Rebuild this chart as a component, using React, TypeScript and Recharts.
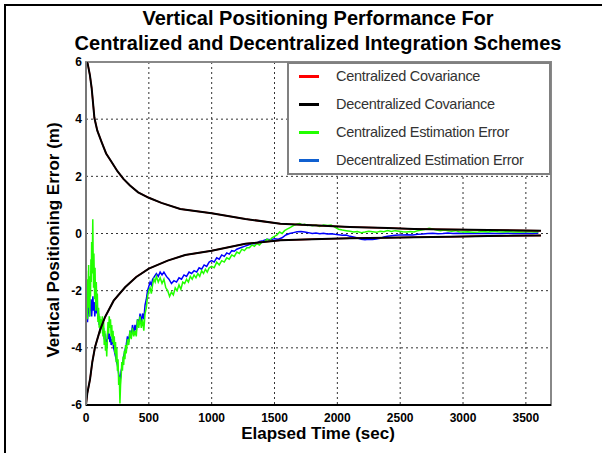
import { LineChart, Line, XAxis, YAxis, CartesianGrid, ReferenceArea } from 'recharts';

// elapsed time (sec) and vertical error (m)
const xTicks = [0, 500, 1000, 1500, 2000, 2500, 3000, 3500];
const yTicks = [-6, -4, -2, 0, 2, 4, 6];

const covUpperT = [0, 13, 31, 45, 67, 90, 125, 160, 205, 250, 298, 350, 415, 500, 600, 750, 1000, 1268, 1547, 1800, 2100, 2400, 2610, 2900, 3200, 3620];
const covUpperV = [6.0, 5.95, 5.54, 5.09, 4.04, 3.6, 3.19, 2.8, 2.49, 2.18, 1.91, 1.68, 1.44, 1.25, 1.07, 0.86, 0.71, 0.51, 0.34, 0.29, 0.23, 0.19, 0.16, 0.14, 0.12, 0.1];
const covLowerT = [0, 10, 32, 50, 72, 110, 151, 220, 311, 400, 500, 650, 789, 1000, 1268, 1547, 1800, 2100, 2400, 2610, 2900, 3200, 3620];
const covLowerV = [-6.0, -5.6, -5.1, -4.5, -3.97, -3.4, -2.93, -2.35, -1.88, -1.52, -1.23, -0.95, -0.75, -0.6, -0.36, -0.24, -0.2, -0.17, -0.15, -0.13, -0.11, -0.09, -0.07];

const centralErrT = [0, 3, 6, 9, 12, 15, 18, 21, 24, 27, 30, 33, 36, 39, 42, 45, 48, 51, 54, 57, 60, 63, 66, 69, 72, 75, 78, 82, 86, 90, 95, 100, 105, 110, 115, 120, 125, 130, 135, 140, 145, 150, 155, 160, 165, 170, 175, 180, 185, 190, 195, 200, 205, 210, 215, 220, 225, 230, 235, 240, 245, 250, 255, 260, 265, 270, 275, 280, 285, 290, 295, 300, 305, 310, 315, 320, 330, 340, 350, 360, 370, 380, 390, 400, 410, 420, 430, 440, 450, 460, 470, 480, 490, 500, 510, 520, 530, 540, 550, 560, 575, 590, 605, 620, 635, 650, 665, 680, 695, 710, 725, 740, 755, 770, 785, 800, 815, 830, 845, 860, 875, 890, 905, 920, 935, 950, 965, 980, 1000, 1020, 1040, 1060, 1080, 1100, 1120, 1140, 1160, 1180, 1200, 1220, 1240, 1260, 1280, 1300, 1320, 1340, 1360, 1380, 1400, 1420, 1440, 1460, 1480, 1500, 1520, 1540, 1560, 1580, 1600, 1620, 1640, 1660, 1680, 1700, 1720, 1740, 1760, 1780, 1800, 1830, 1860, 1890, 1920, 1950, 1980, 2010, 2040, 2070, 2100, 2130, 2160, 2190, 2220, 2250, 2280, 2310, 2340, 2370, 2400, 2430, 2460, 2490, 2520, 2550, 2580, 2610, 2640, 2670, 2700, 2730, 2760, 2790, 2820, 2850, 2880, 2910, 2940, 2970, 3000, 3040, 3080, 3120, 3160, 3200, 3240, 3280, 3320, 3360, 3400, 3440, 3480, 3520, 3560, 3600];
const centralErrV = [-5.8, -1.3, -2.8, -1.6, -3.0, -1.9, -2.6, -1.1, -2.4, -1.5, -2.9, -1.8, -2.2, -0.9, -1.7, -0.3, -1.4, -0.6, 0.5, -0.8, -1.9, -0.7, -1.5, -2.3, -1.2, -2.0, -2.7, -1.7, -2.5, -2.1, -3.1, -2.6, -3.3, -2.9, -3.5, -3.0, -3.3, -2.9, -3.6, -3.1, -3.9, -3.4, -4.1, -3.8, -4.3, -3.6, -3.1, -3.5, -2.9, -3.3, -3.0, -3.6, -3.2, -3.8, -3.4, -3.9, -3.6, -4.2, -3.8, -4.5, -4.0, -4.8, -4.4, -5.3, -5.0, -5.95, -5.3, -5.0, -4.5, -4.8, -4.3, -4.6, -4.1, -4.4, -3.9, -4.2, -3.7, -3.9, -3.4, -3.7, -3.3, -3.6, -3.4, -3.6, -3.0, -3.3, -2.9, -3.3, -3.0, -3.4, -2.8, -2.6, -2.2, -2.0, -1.9, -2.1, -1.8, -1.6, -1.7, -1.5, -1.7, -1.55, -1.75, -1.6, -1.9, -2.0, -2.2, -2.05, -2.15, -1.9, -2.0, -1.8, -1.95, -1.7, -1.75, -1.6, -1.7, -1.5, -1.6, -1.45, -1.55, -1.4, -1.5, -1.3, -1.4, -1.25, -1.35, -1.2, -1.15, -1.2, -1.0, -1.1, -0.95, -1.0, -0.85, -0.9, -0.75, -0.8, -0.65, -0.7, -0.55, -0.6, -0.5, -0.5, -0.4, -0.45, -0.35, -0.4, -0.3, -0.3, -0.2, -0.25, -0.15, -0.1, -0.05, 0.05, 0.0, 0.1, 0.15, 0.2, 0.25, 0.3, 0.33, 0.35, 0.3, 0.32, 0.28, 0.3, 0.27, 0.3, 0.25, 0.3, 0.28, 0.3, 0.22, 0.15, 0.12, 0.1, 0.08, 0.05, 0.07, 0.03, 0.05, 0.08, 0.06, 0.04, 0.08, 0.06, 0.1, 0.07, 0.1, 0.08, 0.06, 0.05, 0.07, 0.05, 0.1, 0.12, 0.15, 0.18, 0.16, 0.12, 0.1, 0.12, 0.1, 0.08, 0.1, 0.06, 0.05, 0.06, 0.04, 0.05, 0.07, 0.05, 0.08, 0.06, 0.05, 0.07, 0.05, 0.06, 0.05, 0.07, 0.05, 0.06];

const decentralErrT = [0, 4, 8, 12, 16, 20, 24, 28, 32, 36, 40, 45, 50, 55, 60, 65, 70, 75, 80, 85, 90, 95, 100, 105, 110, 115, 120, 125, 130, 135, 140, 145, 150, 155, 160, 165, 170, 175, 180, 185, 190, 195, 200, 210, 220, 230, 240, 250, 260, 270, 280, 290, 300, 310, 320, 330, 340, 350, 360, 370, 380, 390, 400, 410, 420, 430, 440, 450, 460, 470, 480, 490, 500, 510, 520, 530, 545, 560, 575, 590, 605, 620, 640, 660, 680, 700, 720, 740, 760, 780, 800, 820, 840, 860, 880, 900, 920, 940, 960, 980, 1000, 1020, 1040, 1060, 1080, 1100, 1120, 1140, 1160, 1180, 1200, 1230, 1260, 1290, 1320, 1350, 1380, 1410, 1440, 1470, 1500, 1530, 1560, 1590, 1620, 1650, 1680, 1710, 1740, 1770, 1800, 1830, 1860, 1890, 1920, 1950, 1980, 2010, 2040, 2070, 2100, 2130, 2160, 2190, 2220, 2250, 2280, 2310, 2340, 2370, 2400, 2430, 2460, 2490, 2520, 2560, 2600, 2640, 2680, 2720, 2760, 2800, 2840, 2880, 2920, 2960, 3000, 3050, 3100, 3150, 3200, 3250, 3300, 3350, 3400, 3450, 3500, 3550, 3600];
const decentralErrV = [-2.0, -2.9, -2.4, -3.1, -2.6, -2.8, -2.2, -2.9, -2.5, -2.7, -2.3, -2.9, -2.5, -2.2, -2.7, -2.4, -2.9, -2.6, -2.3, -2.8, -2.6, -3.0, -2.8, -3.2, -3.0, -3.4, -3.1, -3.3, -3.1, -3.5, -3.3, -3.7, -3.5, -3.9, -3.7, -4.0, -3.6, -3.4, -3.7, -3.5, -3.8, -3.6, -3.9, -3.7, -4.0, -4.2, -4.4, -4.6, -4.9, -5.2, -4.8, -4.6, -4.3, -4.1, -3.9, -3.6, -3.8, -3.4, -3.6, -3.2, -3.5, -3.2, -3.4, -3.0, -3.2, -2.8, -3.1, -2.8, -3.0, -2.5, -2.3, -2.0, -1.85, -1.7, -1.8, -1.6, -1.5, -1.4, -1.5, -1.35, -1.45, -1.35, -1.5, -1.6, -1.75, -1.65, -1.7, -1.55, -1.6, -1.45, -1.5, -1.35, -1.4, -1.3, -1.35, -1.2, -1.25, -1.1, -1.15, -1.0, -0.95, -1.0, -0.85, -0.9, -0.75, -0.8, -0.68, -0.72, -0.6, -0.62, -0.55, -0.5, -0.45, -0.4, -0.35, -0.36, -0.28, -0.25, -0.2, -0.22, -0.18, -0.2, -0.15, -0.05, 0.0, 0.03, 0.06, 0.07, 0.05, 0.03, 0.0, 0.02, -0.01, 0.01, -0.02, -0.01, -0.03, -0.04, -0.06, -0.05, -0.1, -0.12, -0.16, -0.2, -0.22, -0.2, -0.21, -0.19, -0.17, -0.12, -0.1, -0.08, -0.06, -0.05, -0.05, -0.04, -0.05, -0.03, -0.02, 0.0, 0.01, -0.01, 0.0, 0.02, 0.0, 0.01, 0.0, 0.01, 0.0, 0.0, 0.01, 0.0, 0.0, 0.01, 0.0, 0.0, 0.01, 0.0, 0.02];

const legendItems = [
  { name: 'Centralized Covariance', color: '#ff0000' },
  { name: 'Decentralized Covariance', color: '#000000' },
  { name: 'Centralized Estimation Error', color: '#22ff00' },
  { name: 'Decentralized Estimation Error', color: '#1060d0' },
];

const toPoints = (ts: number[], vs: number[]) => ts.map((t, i) => ({ t, v: vs[i] }));

const font = 'Arial, "Liberation Sans", sans-serif';

export default function App() {
  const upperCov = toPoints(covUpperT, covUpperV);
  const lowerCov = toPoints(covLowerT, covLowerV);
  const cenErr = toPoints(centralErrT, centralErrV);
  const decErr = toPoints(decentralErrT, decentralErrV);

  return (
    <div style={{ position: 'absolute', left: 0, top: 0, width: 602, height: 453, background: '#fff', overflow: 'hidden', fontFamily: font }}>
      {/* outer figure frame */}
      <div style={{ position: 'absolute', left: 4, top: 4, width: 620, height: 470, border: '2px solid #000' }} />

      <div style={{ position: 'absolute', left: 18, width: 600, top: 6, textAlign: 'center', fontWeight: 'bold', fontSize: 20, lineHeight: '25px', color: '#000' }}>
        Vertical Positioning Performance For
        <br />
        Centralized and Decentralized Integration Schemes
      </div>

      <LineChart width={602} height={453} margin={{ top: 62, right: 51, bottom: 0, left: 0 }} style={{ position: 'absolute', left: 0, top: 0 }}>
        <CartesianGrid stroke="#333" strokeDasharray="2 3" strokeWidth={1} />
        <XAxis
          type="number"
          dataKey="t"
          domain={[0, 3700]}
          ticks={xTicks}
          height={48}
          tickLine={false}
          axisLine={{ stroke: '#000', strokeWidth: 2 }}
          tick={{ fontSize: 12, fontWeight: 'bold', fill: '#000', fontFamily: font }}
          allowDataOverflow
        />
        <YAxis
          type="number"
          dataKey="v"
          domain={[-6, 6]}
          ticks={yTicks}
          width={86}
          tickLine={false}
          tickSize={2}
          axisLine={{ stroke: '#777', strokeWidth: 2 }}
          tick={{ fontSize: 12, fontWeight: 'bold', fill: '#000', fontFamily: font }}
          allowDataOverflow
        />
        <ReferenceArea x1={0} x2={3700} y1={-6} y2={6} fill="none" stroke="#888" strokeWidth={2} ifOverflow="visible" />
        <Line data={decErr} dataKey="v" stroke="#0000ff" strokeWidth={1.5} dot={false} isAnimationActive={false} />
        <Line data={cenErr} dataKey="v" stroke="#22ff00" strokeWidth={1.5} dot={false} isAnimationActive={false} />
        <Line data={upperCov} dataKey="v" stroke="#ff0000" strokeWidth={1.5} dot={false} isAnimationActive={false} />
        <Line data={lowerCov} dataKey="v" stroke="#ff0000" strokeWidth={1.5} dot={false} isAnimationActive={false} />
        <Line data={upperCov} dataKey="v" stroke="#000" strokeWidth={2} dot={false} isAnimationActive={false} />
        <Line data={lowerCov} dataKey="v" stroke="#000" strokeWidth={2} dot={false} isAnimationActive={false} />
      </LineChart>

      {/* legend box */}
      <div style={{ position: 'absolute', left: 287, top: 62, width: 260, height: 109, background: '#fff', border: '2px solid #808080' }}>
        {legendItems.map((item, i) => (
          <div key={item.name} style={{ position: 'absolute', left: 0, top: 2 + i * 28, height: 20, display: 'flex', alignItems: 'center' }}>
            <div style={{ marginLeft: 10, width: 20, height: 3, background: item.color }} />
            <span style={{ marginLeft: 17, fontSize: 14.5, letterSpacing: -0.3, color: '#333', whiteSpace: 'nowrap' }}>{item.name}</span>
          </div>
        ))}
      </div>

      <div style={{ position: 'absolute', left: 168, width: 300, top: 424, textAlign: 'center', fontWeight: 'bold', fontSize: 17, color: '#000' }}>
        Elapsed Time (sec)
      </div>
      <div style={{ position: 'absolute', left: 54 - 150, top: 240 - 10, width: 300, height: 20, lineHeight: '20px', textAlign: 'center', fontWeight: 'bold', fontSize: 17, color: '#000', transform: 'rotate(-90deg)' }}>
        Vertical Positioning Error (m)
      </div>
    </div>
  );
}
